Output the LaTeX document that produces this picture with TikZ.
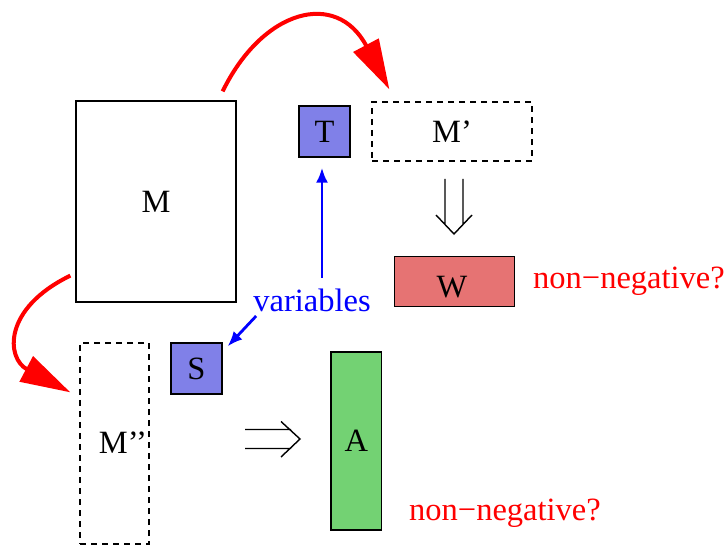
\documentclass[tikz,border=0pt]{standalone}
\usepackage{fontspec}
\setmainfont{Liberation Serif}
\usetikzlibrary{arrows.meta,calc}
\definecolor{tblue}{RGB}{128,128,232}
\definecolor{wred}{RGB}{230,115,115}
\definecolor{agreen}{RGB}{115,210,115}
\begin{document}
\begin{tikzpicture}[x=1pt,y=-1pt,
  font=\fontsize{32.5}{39}\selectfont,
  box/.style={draw,line width=1.3pt,inner sep=0pt},
  dbox/.style={draw,line width=1.3pt,inner sep=0pt,dash pattern=on 6pt off 5pt},
  txt/.style={inner sep=0pt},
  redarrow/.style={draw=red,line width=4pt,-{Triangle[length=50pt,width=28pt]}},
  bluearrow/.style={draw=blue,line width=2.8pt,-{Latex[length=15pt,width=12pt]}},
  implies/.style={line width=1.4pt}]
\useasboundingbox (0,0) rectangle (726,545);
% boxes
\node[box,minimum width=160pt,minimum height=201pt] (M) at (156,201.5) {M};
\node[box,fill=tblue,minimum width=51pt,minimum height=51pt] (T) at (324.5,131.5) {T};
\node[dbox,minimum width=160pt,minimum height=59pt] (Mp) at (452,131.5) {M’};
\node[box,fill=wred,minimum width=119.5pt,minimum height=50pt] (W) at (454.5,281.7) {};
\node[txt] (Wt) at (452,287) {W};
\node[box,fill=tblue,minimum width=51pt,minimum height=51pt] (S) at (196.5,368.5) {S};
\node[dbox,minimum width=69pt,minimum height=201pt] (Mpp) at (114.5,443.5) {};
\node[txt] (Mppt) at (123,442.5) {M’’};
\node[box,fill=agreen,minimum width=50.5pt,minimum height=178pt] (A) at (356.3,441) {A};
% labels
\node[txt,text=red,anchor=base west] (nn1) at (533,289) {non−negative?};
\node[txt,text=red,anchor=base west] (nn2) at (409,520) {non−negative?};
\node[txt,text=blue,anchor=base] (var) at (312,311.5) {variables};
% red curved arrows
\draw[redarrow] ($(M.north east)+(-14,-9)$) .. controls +(40,-82) and +(-53,-100) .. ($(Mp.north west)+(18,-12)$);
\draw[redarrow] ($(M.south west)+(-5,-27)$) .. controls +(-68,33) and +(-64,-34) .. ($(Mpp.north west)+(-9,50)$);
% blue arrows
\draw[bluearrow] ($(var.base)+(10,-33.5)$) -- ($(T.south)+(-2.5,10)$);
\draw[bluearrow] ($(var.base west)+(3,4.5)$) -- ($(S.north east)+(5,4)$);
% implies arrows
\coordinate (dn) at (454,179);
\draw[implies] ($(dn)+(-9,0)$) -- ++(0,45.5) ($(dn)+(9,0)$) -- ++(0,45.5)
  ($(dn)+(-18,36)$) -- ($(dn)+(0,55)$) -- ($(dn)+(18,36)$);
\coordinate (rt) at (245,439);
\draw[implies] ($(rt)+(0,-9.5)$) -- ++(46,0) ($(rt)+(0,9.5)$) -- ++(46,0)
  ($(rt)+(36,-17.5)$) -- ($(rt)+(55,0)$) -- ($(rt)+(36,18)$);
\end{tikzpicture}
\end{document}
